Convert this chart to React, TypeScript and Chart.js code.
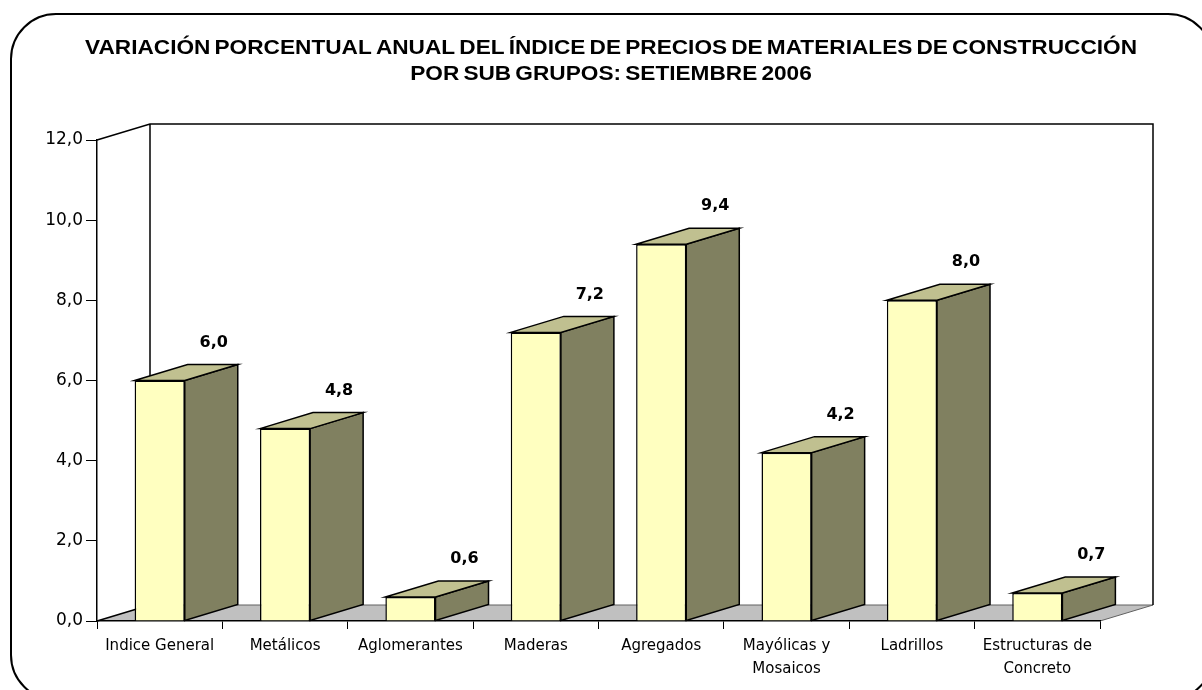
import React, { useEffect, useRef } from 'react';
import { Chart, registerables } from 'chart.js';

Chart.register(...registerables);

const TITLE_LINES = [
  'VARIACIÓN PORCENTUAL ANUAL DEL ÍNDICE DE PRECIOS DE MATERIALES DE CONSTRUCCIÓN',
  'POR SUB GRUPOS: SETIEMBRE 2006',
];
const CATEGORIES: (string | string[])[] = [
  'Indice General',
  'Metálicos',
  'Aglomerantes',
  'Maderas',
  'Agregados',
  ['Mayólicas y', 'Mosaicos'],
  'Ladrillos',
  ['Estructuras de', 'Concreto'],
];
const VALUES = [6.0, 4.8, 0.6, 7.2, 9.4, 4.2, 8.0, 0.7];
const Y_MIN = 0;
const Y_MAX = 12;
const Y_STEP = 2;

const DX = 53;
const DY = 16;
const FRONT = '#FFFFC0';
const SIDE = '#808060';
const TOP = '#C0C090';
const FLOOR = '#C0C0C0';

const fmt = (v: number) => v.toFixed(1).replace('.', ',');

const titlePlugin = {
  id: 'customTitle',
  afterDraw(chart: any) {
    const ctx = chart.ctx as CanvasRenderingContext2D;
    ctx.save();
    ctx.font = 'bold 21px "Liberation Sans", Arial';
    (ctx as any).wordSpacing = '-2px';
    ctx.fillStyle = '#000';
    ctx.textAlign = 'center';
    ctx.textBaseline = 'middle';
    const w1 = ctx.measureText(TITLE_LINES[0]).width;
    const sx = 1052 / w1;
    const cx = 611;
    TITLE_LINES.forEach((line, i) => {
      ctx.save();
      ctx.translate(cx, 48 + i * 26);
      ctx.scale(sx, 1);
      ctx.fillText(line, 0, 0);
      ctx.restore();
    });
    ctx.restore();
  },
};

const pseudo3d = {
  id: 'pseudo3d',
  beforeDraw(chart: any) {
    const ctx = chart.ctx as CanvasRenderingContext2D;
    const a = chart.chartArea;
    const y0 = chart.scales.y.getPixelForValue(Y_MIN);
    const yTop = chart.scales.y.getPixelForValue(Y_MAX);
    ctx.save();
    // rounded frame
    ctx.strokeStyle = '#000';
    ctx.lineWidth = 2;
    ctx.beginPath();
    (ctx as any).roundRect(11, 14, 1202, 686, 45);
    ctx.stroke();
    // floor
    ctx.beginPath();
    ctx.moveTo(a.left, y0);
    ctx.lineTo(a.left + DX, y0 - DY);
    ctx.lineTo(a.right + DX, y0 - DY);
    ctx.lineTo(a.right, y0);
    ctx.closePath();
    ctx.fillStyle = FLOOR;
    ctx.fill();
    ctx.lineWidth = 1;
    ctx.strokeStyle = '#606060';
    ctx.beginPath();
    ctx.moveTo(a.left + DX, y0 - DY);
    ctx.lineTo(a.right + DX, y0 - DY);
    ctx.lineTo(a.right, y0);
    ctx.stroke();
    ctx.strokeStyle = '#000';
    ctx.lineWidth = 1.5;
    ctx.beginPath();
    ctx.moveTo(a.left, y0);
    ctx.lineTo(a.left + DX, y0 - DY);
    ctx.stroke();
    // back wall
    ctx.beginPath();
    ctx.moveTo(a.left, yTop);
    ctx.lineTo(a.left + DX, yTop - DY);
    ctx.lineTo(a.right + DX, yTop - DY);
    ctx.lineTo(a.right + DX, y0 - DY);
    ctx.moveTo(a.left + DX, yTop - DY);
    ctx.lineTo(a.left + DX, y0 - DY);
    ctx.stroke();
    ctx.restore();
  },
  afterDatasetsDraw(chart: any) {
    const ctx = chart.ctx as CanvasRenderingContext2D;
    const meta = chart.getDatasetMeta(0);
    const ds = chart.data.datasets[0].data as number[];
    ctx.save();
    ctx.lineWidth = 1.5;
    ctx.strokeStyle = '#000';
    ctx.lineJoin = 'miter';
    meta.data.forEach((bar: any, i: number) => {
      const { x, y, base, width } = bar.getProps(['x', 'y', 'base', 'width'], true);
      const l = x - width / 2;
      const r = x + width / 2;
      // side
      ctx.beginPath();
      ctx.moveTo(r, y);
      ctx.lineTo(r + DX, y - DY);
      ctx.lineTo(r + DX, base - DY);
      ctx.lineTo(r, base);
      ctx.closePath();
      ctx.fillStyle = SIDE;
      ctx.fill();
      ctx.stroke();
      // top
      ctx.beginPath();
      ctx.moveTo(l, y);
      ctx.lineTo(l + DX, y - DY);
      ctx.lineTo(r + DX, y - DY);
      ctx.lineTo(r, y);
      ctx.closePath();
      ctx.fillStyle = TOP;
      ctx.fill();
      ctx.stroke();
      // label
      ctx.fillStyle = '#000';
      ctx.font = 'bold 16px "DejaVu Sans"';
      ctx.textAlign = 'center';
      ctx.textBaseline = 'middle';
      ctx.fillText(fmt(ds[i]), x + DX + 1, y - DY - 22);
    });
    ctx.restore();
  },
};

export default function App() {
  const ref = useRef<HTMLCanvasElement>(null);
  useEffect(() => {
    if (!ref.current) return;
    const chart = new Chart(ref.current, {
      type: 'bar',
      data: {
        labels: CATEGORIES,
        datasets: [
          {
            data: VALUES,
            backgroundColor: FRONT,
            borderColor: '#000',
            borderWidth: 1.5,
            categoryPercentage: 1,
            barPercentage: 0.4,
          },
        ],
      },
      options: {
        responsive: false,
        animation: false,
        layout: { padding: { top: 140, right: 102, left: 0, bottom: 0 } },
        plugins: {
          legend: { display: false },
          tooltip: { enabled: false },
          title: { display: false },
        },
        scales: {
          x: {
            grid: { drawOnChartArea: false, color: '#000', tickLength: 8, offset: true },
            border: { color: '#000', width: 1.5 },
            ticks: {
              color: '#000',
              font: { family: '"DejaVu Sans"', size: 15, lineHeight: 1.55 },
              padding: 5,
              maxRotation: 0,
              autoSkip: false,
            },
            afterFit: (s: any) => {
              s.height = 69;
            },
          },
          y: {
            min: Y_MIN,
            max: Y_MAX,
            grid: { drawOnChartArea: false, color: '#000', tickLength: 11 },
            border: { color: '#000', width: 1.5 },
            ticks: {
              stepSize: Y_STEP,
              color: '#000',
              font: { family: '"DejaVu Sans"', size: 17 },
              padding: 3,
              callback: (v: any) => fmt(Number(v)),
            },
            afterFit: (s: any) => {
              s.width = 97;
            },
          },
        },
      },
      plugins: [pseudo3d, titlePlugin],
    });
    return () => chart.destroy();
  }, []);
  return (
    <div style={{ position: 'fixed', left: 0, top: 0, width: 1202, height: 690, background: '#fff' }}>
      <canvas ref={ref} width={1202} height={690} style={{ display: 'block' }} />
    </div>
  );
}
